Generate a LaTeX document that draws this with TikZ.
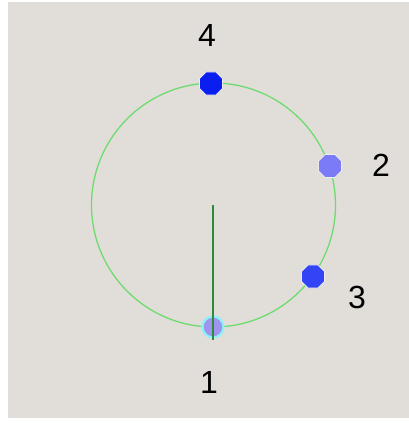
\documentclass[tikz,border=0pt]{standalone}
\usepackage{fontspec}
\setmainfont{Liberation Sans}
\usetikzlibrary{shapes.geometric}
\definecolor{bg}{HTML}{E1DED9}
\definecolor{ringgreen}{HTML}{6EDB6E}
\definecolor{handgreen}{HTML}{2E8B3A}
\definecolor{darkdot}{HTML}{0A1EF0}
\definecolor{middot}{HTML}{3344F6}
\definecolor{lightdot}{HTML}{7B7BF7}
\definecolor{pale}{HTML}{9F94EE}
\definecolor{halo}{HTML}{8EF0FA}
\tikzset{
  octdot/.style={regular polygon, regular polygon sides=8, minimum size=25pt, inner sep=0pt, draw=white!50!bg, line width=0.8pt},
  lbl/.style={font=\fontsize{32}{32}\selectfont, text=black, inner sep=0pt}
}
\begin{document}
\begin{tikzpicture}[x=1pt,y=-1pt]
\useasboundingbox (0,0) rectangle (409,423);
\fill[white] (0,0) rectangle (409,423);
\fill[bg] (8,2) rectangle (409,418);
% ring
\node[circle, draw=ringgreen, line width=1.3pt, minimum size=244pt, inner sep=0pt] (ring) at (213.5,205) {};
\coordinate (ctr) at (213,205);
% dots
\node[octdot, fill=darkdot] (d4) at (211,83.5) {};
\node[octdot, fill=lightdot] (d2) at (330,166) {};
\node[octdot, fill=middot] (d3) at (313,276.5) {};
\node[circle, fill=pale, draw=halo, line width=2.2pt, minimum size=21pt, inner sep=0pt] (d1) at (213,327) {};
% hand
\coordinate (handend) at (213,340);
\draw[handgreen, line width=1.4pt] (ctr) -- (handend);
% labels
\node[lbl] (l4) at (207,35) {4};
\node[lbl] (l2) at (381,165) {2};
\node[lbl] (l3) at (357,297) {3};
\node[lbl] (l1) at (209,382) {1};
\end{tikzpicture}
\end{document}
